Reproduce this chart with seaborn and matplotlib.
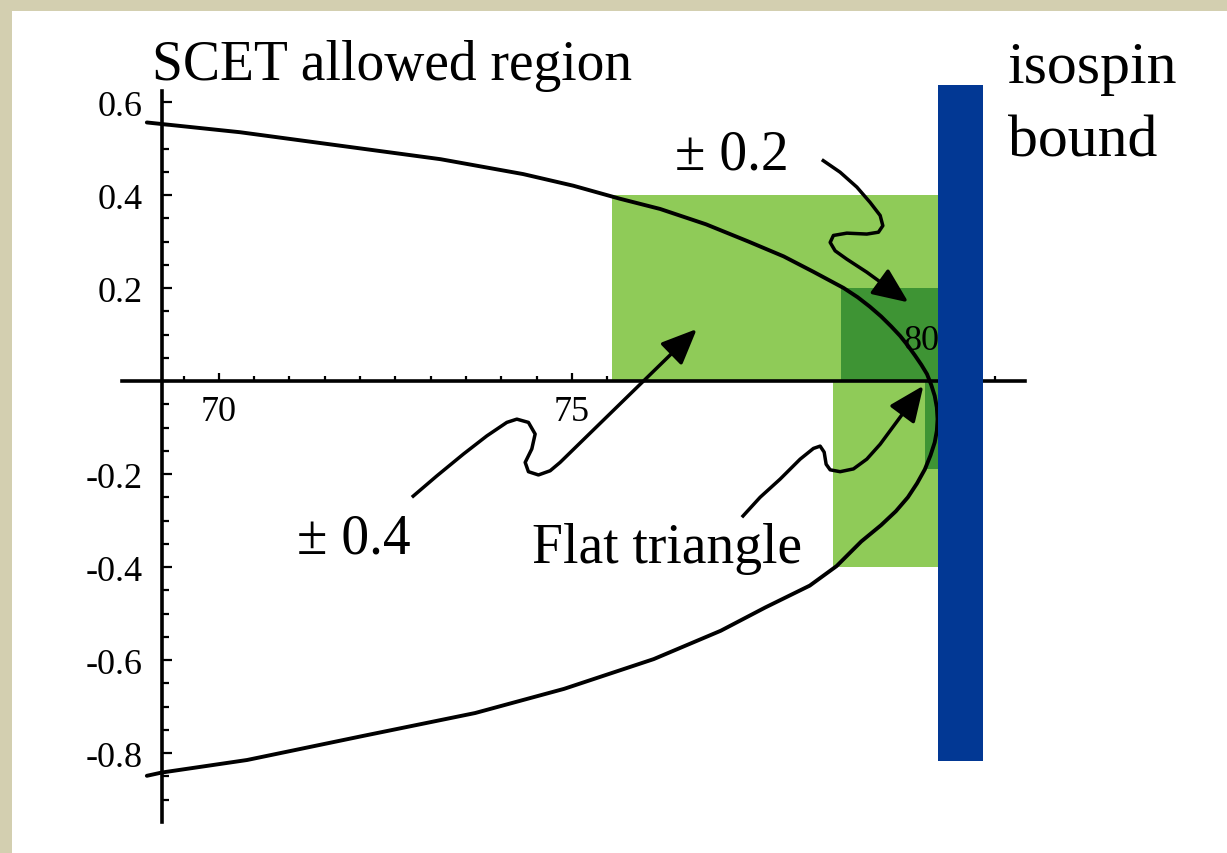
import numpy as np
import matplotlib
matplotlib.use("Agg")
import matplotlib.pyplot as plt
import seaborn as sns
from matplotlib.patches import Rectangle, FancyArrowPatch
from matplotlib.path import Path

# boundary of the SCET allowed region
curve_x = [68.98, 70.30, 71.72, 73.14, 74.31, 75.02, 75.68, 76.25, 76.90, 77.50, 78.00,
           78.42, 78.85, 79.05, 79.22, 79.38, 79.52, 79.65, 79.76, 79.86, 79.95, 80.03,
           80.09, 80.14, 80.17, 80.18, 80.17, 80.14, 80.08, 80.00, 79.89, 79.76, 79.59,
           79.38, 79.10, 78.75, 78.37, 77.74, 77.11, 76.16, 74.89, 73.63, 72.05, 70.40,
           69.19, 68.98]
curve_y = [0.556, 0.535, 0.506, 0.477, 0.445, 0.420, 0.392, 0.370, 0.337, 0.300, 0.268,
           0.235, 0.200, 0.180, 0.160, 0.139, 0.118, 0.097, 0.076, 0.055, 0.035, 0.015,
           -0.008, -0.032, -0.057, -0.082, -0.107, -0.132, -0.160, -0.190, -0.220, -0.250,
           -0.280, -0.310, -0.345, -0.398, -0.440, -0.487, -0.537, -0.598, -0.662, -0.714,
           -0.763, -0.815, -0.842, -0.849]

# boxes: (x0, x1, y0, y1)
light_boxes = [(75.57, 80.19, 0.0, 0.4), (78.70, 80.19, -0.4, 0.0)]
dark_boxes = [(78.81, 80.19, 0.0, 0.2), (80.0, 80.19, -0.19, 0.0)]
isospin_bar = (80.19, 80.83, -0.817, 0.637)

# annotation arrows
arrow04_x = [72.734, 73.088, 73.465, 73.796, 74.079, 74.221, 74.385, 74.480, 74.433, 74.339,
             74.385, 74.527, 74.693, 74.834, 76.771]
arrow04_y = [-0.250, -0.204, -0.157, -0.118, -0.089, -0.082, -0.089, -0.114, -0.146, -0.175,
             -0.195, -0.202, -0.193, -0.175, 0.112]
arrow02_x = [78.541, 78.800, 79.037, 79.225, 79.367, 79.405, 79.343, 79.178, 78.895, 78.705,
             78.659, 78.729, 78.895, 79.178, 79.768]
arrow02_y = [0.476, 0.449, 0.417, 0.384, 0.356, 0.334, 0.320, 0.316, 0.318, 0.313,
             0.298, 0.280, 0.262, 0.234, 0.169]
arrowft_x = [77.408, 77.667, 77.950, 78.234, 78.422, 78.517, 78.574, 78.602, 78.659, 78.800,
             78.989, 79.178, 79.367, 79.980]
arrowft_y = [-0.293, -0.250, -0.211, -0.168, -0.145, -0.140, -0.153, -0.179, -0.191, -0.195,
             -0.189, -0.168, -0.136, -0.010]

x_major = [70, 75, 80]
x_labels = ['70', '75', '']
y_major = [-0.8, -0.6, -0.4, -0.2, 0.2, 0.4, 0.6]
y_labels = ['-0.8', '-0.6', '-0.4', '-0.2', '0.2', '0.4', '0.6']

sns.set_theme(style='white')
plt.rcParams['font.family'] = ['Liberation Serif', 'DejaVu Serif']
plt.rcParams['axes.unicode_minus'] = False
plt.rcParams['text.color'] = 'black'

fig = plt.figure(figsize=(12.27, 8.54), dpi=100, facecolor='#d3cfb0')
fig.patches.append(Rectangle((12 / 1227, 0), 1, 1 - 12 / 854, transform=fig.transFigure,
                             facecolor='white', edgecolor='none', zorder=-10))
ax = fig.add_axes([0, 0, 1, 1])
ax.set_facecolor('none')
ax.set_xlim(66.90, 84.28)
ax.set_ylim(-1.015, 0.8215)

light = '#8fcb58'
dark = '#3e9434'
for x0, x1, y0, y1 in light_boxes:
    ax.add_patch(Rectangle((x0, y0), x1 - x0, y1 - y0, facecolor=light, edgecolor='none', zorder=1))
for x0, x1, y0, y1 in dark_boxes:
    ax.add_patch(Rectangle((x0, y0), x1 - x0, y1 - y0, facecolor=dark, edgecolor='none', zorder=1.5))

sns.lineplot(x=curve_x, y=curve_y, sort=False, estimator=None, color='black', lw=2.8, ax=ax, zorder=3)
ax.lines[-1].set_solid_joinstyle('round')

for xs, ys in [(arrow04_x, arrow04_y), (arrow02_x, arrow02_y), (arrowft_x, arrowft_y)]:
    arr = FancyArrowPatch(path=Path(np.column_stack([xs, ys])),
                          arrowstyle='-|>,head_length=2.2,head_width=0.95', mutation_scale=10,
                          lw=2.5, color='black', joinstyle='round', capstyle='butt', zorder=4)
    ax.add_patch(arr)

bx0, bx1, by0, by1 = isospin_bar
ax.add_patch(Rectangle((bx0, by0), bx1 - bx0, by1 - by0, facecolor='#023894', edgecolor='none', zorder=5))

# axes through the origin
for s in ['top', 'right']:
    ax.spines[s].set_visible(False)
ax.spines['bottom'].set_position(('data', 0))
ax.spines['left'].set_position(('data', 69.2))
ax.spines['bottom'].set_bounds(68.63, 81.42)
ax.spines['left'].set_bounds(-0.948, 0.624)
for s in ['bottom', 'left']:
    ax.spines[s].set_linewidth(2.6)
    ax.spines[s].set_color('black')
    ax.spines[s].set_zorder(2)

ax.set_xticks(x_major, labels=x_labels)
ax.set_xticks(np.arange(69.5, 81.01, 0.5), minor=True)
ax.set_yticks(y_major, labels=y_labels)
ax.set_yticks(np.arange(-0.9, 0.601, 0.05), minor=True)
ax.tick_params(axis='both', which='both', bottom=True, left=True, top=False, right=False, color='black')
ax.tick_params(axis='x', which='major', direction='in', length=6, width=1.6, pad=10, labelsize=26, labelcolor='black')
ax.tick_params(axis='x', which='minor', direction='in', length=3.8, width=1.6)
ax.tick_params(axis='y', which='major', direction='in', length=7, width=1.6, pad=14, labelsize=26, labelcolor='black')
ax.tick_params(axis='y', which='minor', direction='in', length=4.8, width=1.6)
ax.text(79.95, 0.069, '80', fontsize=26, ha='center', va='baseline', color='black', zorder=2.5)

ax.text(69.055, 0.649, 'SCET allowed region', fontsize=40, ha='left', va='baseline', color='black')
ax.text(81.18, 0.643, 'isospin', fontsize=43, ha='left', va='baseline', color='black')
ax.text(81.18, 0.484, 'bound', fontsize=43, ha='left', va='baseline', color='black')
ax.text(76.46, 0.456, '± 0.2', fontsize=40, ha='left', va='baseline', color='black')
ax.text(71.10, -0.368, '± 0.4', fontsize=40, ha='left', va='baseline', color='black')
ax.text(74.43, -0.390, 'Flat triangle', fontsize=40, ha='left', va='baseline', color='black')

fig.savefig('out.png', dpi=100, facecolor=fig.get_facecolor())
